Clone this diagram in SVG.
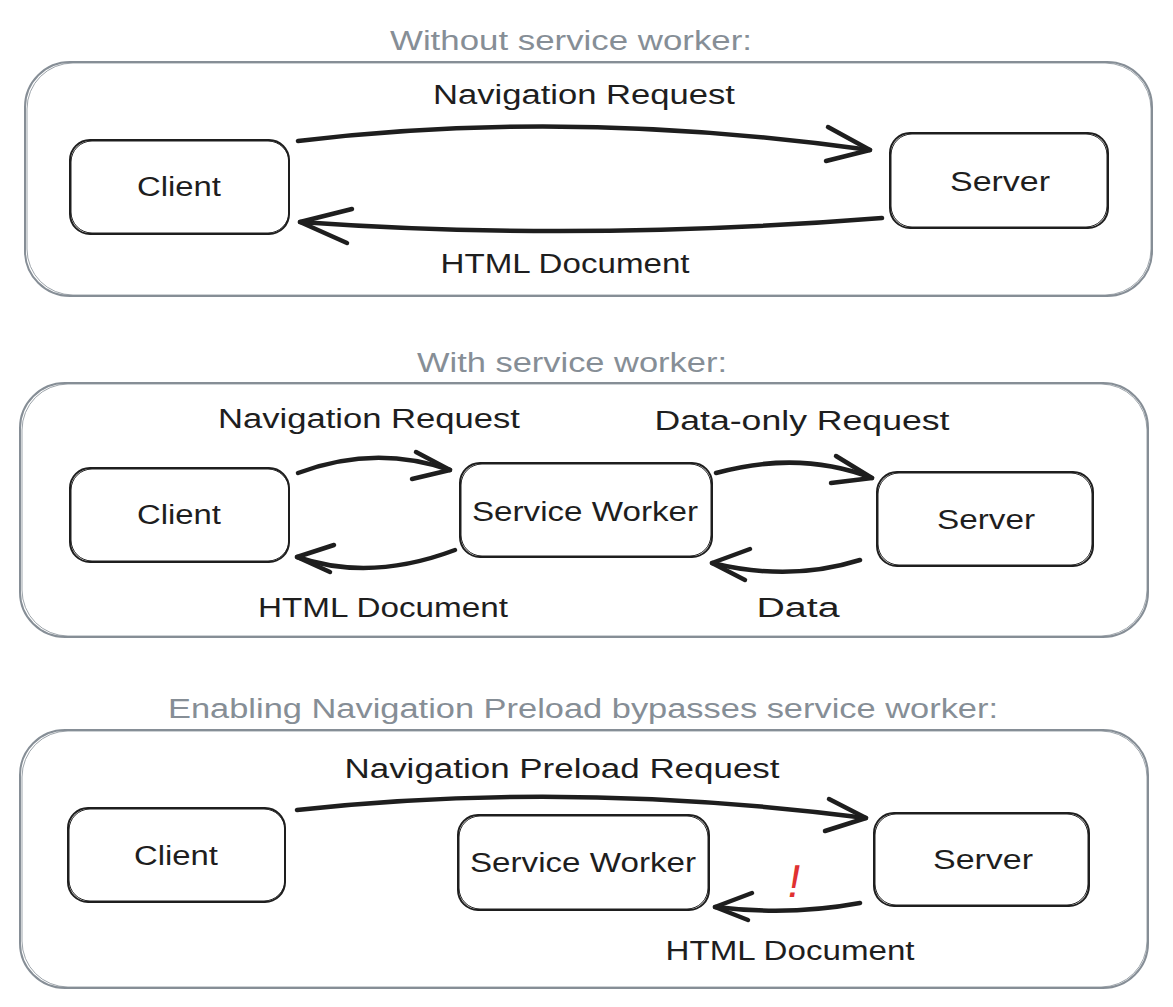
<svg xmlns="http://www.w3.org/2000/svg" width="1173" height="1007" viewBox="0 0 1173 1007">
<style>
.bg{fill:#ffffff}
.frame{fill:none;stroke:#868e96;stroke-width:2}
.frame2{fill:none;stroke:#868e96;stroke-width:1;opacity:0.8}
.node{fill:none;stroke:#1e1e1e;stroke-width:2}
.node2{fill:none;stroke:#1e1e1e;stroke-width:1}
.arrow{fill:none;stroke:#1e1e1e;stroke-width:4.5;stroke-linecap:round;stroke-linejoin:round}
.lbl{font-family:"Liberation Sans",Arial,sans-serif;font-size:27px;fill:#1e1e1e;text-anchor:middle}
.title{fill:#868e96}
.warn{font-family:"Liberation Sans",Arial,sans-serif;font-size:46px;fill:#e03131;text-anchor:middle}
</style>
<rect class="bg" x="0" y="0" width="1173" height="1007"/>

<g id="section1">
  <text class="lbl title" x="571" y="50" textLength="362" lengthAdjust="spacingAndGlyphs">Without service worker:</text>
  <rect class="frame" x="25" y="62" width="1127" height="234" rx="45"/>
  <rect class="frame2" x="27" y="63" width="1124" height="232" rx="46"/>
</g>
<g id="client1">
  <rect class="node" x="70" y="140" width="219" height="94" rx="20"/>
  <rect class="node2" x="71" y="141" width="218" height="92" rx="21"/>
  <text class="lbl" x="179" y="196" textLength="84" lengthAdjust="spacingAndGlyphs">Client</text>
</g>
<g id="server1">
  <rect class="node" x="890" y="133" width="218" height="95" rx="20"/>
  <rect class="node2" x="891" y="134" width="216" height="93" rx="21"/>
  <text class="lbl" x="1000" y="191" textLength="100" lengthAdjust="spacingAndGlyphs">Server</text>
</g>

<g id="section2">
  <text class="lbl title" x="572" y="372" textLength="310" lengthAdjust="spacingAndGlyphs">With service worker:</text>
  <rect class="frame" x="20" y="383" width="1128" height="254" rx="45"/>
  <rect class="frame2" x="22" y="384" width="1125" height="252" rx="46"/>
</g>
<g id="client2">
  <rect class="node" x="70" y="468" width="219" height="94" rx="20"/>
  <rect class="node2" x="71" y="469" width="218" height="92" rx="21"/>
  <text class="lbl" x="179" y="524" textLength="84" lengthAdjust="spacingAndGlyphs">Client</text>
</g>
<g id="sw2">
  <rect class="node" x="460" y="463" width="252" height="94" rx="20"/>
  <rect class="node2" x="461" y="464" width="250" height="92" rx="21"/>
  <text class="lbl" x="585" y="521" textLength="226" lengthAdjust="spacingAndGlyphs">Service Worker</text>
</g>
<g id="server2">
  <rect class="node" x="877" y="472" width="216" height="94" rx="20"/>
  <rect class="node2" x="878" y="473" width="214" height="92" rx="21"/>
  <text class="lbl" x="986" y="529" textLength="98" lengthAdjust="spacingAndGlyphs">Server</text>
</g>

<g id="section3">
  <text class="lbl title" x="583" y="718" textLength="830" lengthAdjust="spacingAndGlyphs">Enabling Navigation Preload bypasses service worker:</text>
  <rect class="frame" x="20" y="730" width="1128" height="258" rx="45"/>
  <rect class="frame2" x="22" y="731" width="1125" height="256" rx="46"/>
</g>
<g id="client3">
  <rect class="node" x="68" y="808" width="217" height="94" rx="20"/>
  <rect class="node2" x="69" y="809" width="216" height="92" rx="21"/>
  <text class="lbl" x="176" y="865" textLength="84" lengthAdjust="spacingAndGlyphs">Client</text>
</g>
<g id="sw3">
  <rect class="node" x="458" y="815" width="251" height="95" rx="20"/>
  <rect class="node2" x="459" y="816" width="249" height="93" rx="21"/>
  <text class="lbl" x="583" y="872" textLength="226" lengthAdjust="spacingAndGlyphs">Service Worker</text>
</g>
<g id="server3">
  <rect class="node" x="874" y="813" width="215" height="93" rx="20"/>
  <rect class="node2" x="875" y="814" width="213" height="91" rx="21"/>
  <text class="lbl" x="983" y="869" textLength="100" lengthAdjust="spacingAndGlyphs">Server</text>
</g>

<g id="connectors">
  <path class="arrow" d="M298,141 Q570,108 870,150"/>
  <path class="arrow" d="M828,127 L870,150 L826,161"/>
  <text class="lbl" x="584" y="104" textLength="302" lengthAdjust="spacingAndGlyphs">Navigation Request</text>

  <path class="arrow" d="M882,218 Q580,242 300,222"/>
  <path class="arrow" d="M352,209 L300,222 L347,243"/>
  <text class="lbl" x="565" y="273" textLength="249" lengthAdjust="spacingAndGlyphs">HTML Document</text>

  <path class="arrow" d="M298,473 Q375,444 450,470"/>
  <path class="arrow" d="M416,452 L450,470 L412,479"/>
  <text class="lbl" x="369" y="428" textLength="302" lengthAdjust="spacingAndGlyphs">Navigation Request</text>

  <path class="arrow" d="M716,473 Q800,450 872,478"/>
  <path class="arrow" d="M836,456 L872,478 L831,483"/>
  <text class="lbl" x="802" y="430" textLength="295" lengthAdjust="spacingAndGlyphs">Data-only Request</text>

  <path class="arrow" d="M455,550 Q370,582 297,557"/>
  <path class="arrow" d="M334,545 L297,557 L330,572"/>
  <text class="lbl" x="383" y="617" textLength="250" lengthAdjust="spacingAndGlyphs">HTML Document</text>

  <path class="arrow" d="M860,560 Q790,582 712,563"/>
  <path class="arrow" d="M750,549 L712,563 L745,580"/>
  <text class="lbl" x="798" y="617" textLength="83" lengthAdjust="spacingAndGlyphs">Data</text>

  <path class="arrow" d="M297,810 Q570,780 866,818"/>
  <path class="arrow" d="M829,799 L866,818 L825,831"/>
  <text class="lbl" x="562" y="778" textLength="435" lengthAdjust="spacingAndGlyphs">Navigation Preload Request</text>

  <path class="arrow" d="M860,903 Q790,916 715,907"/>
  <path class="arrow" d="M752,893 L715,907 L748,920"/>
  <text class="lbl" x="790" y="960" textLength="249" lengthAdjust="spacingAndGlyphs">HTML Document</text>

  <text class="warn" x="792" y="897" transform="skewX(-10) translate(158,0)">!</text>
</g>
</svg>
